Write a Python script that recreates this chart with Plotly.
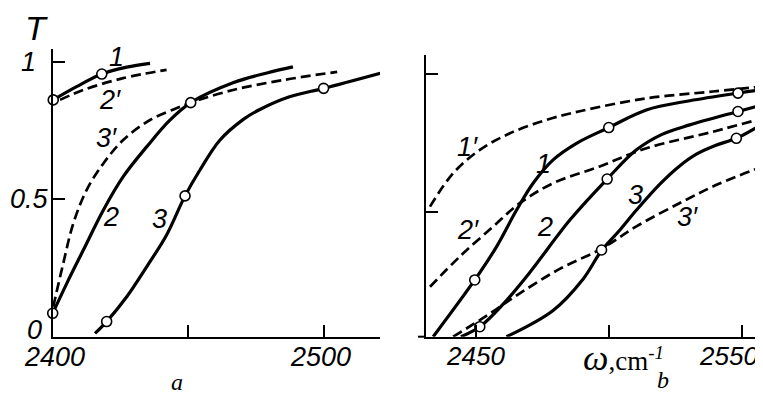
import plotly.graph_objects as go

# ---------------- data: panel a ----------------
a1_x = [2400.2, 2408.8, 2418.1, 2427.3, 2435.9]
a1_y = [0.861, 0.909, 0.955, 0.980, 0.994]
a2p_x = [2402.7, 2411.3, 2426.0, 2442.0]
a2p_y = [0.861, 0.897, 0.940, 0.970]
a2_x = [2400.0, 2405.2, 2411.3, 2418.7, 2426.0, 2434.7, 2443.3, 2450.9, 2466.5, 2479.0, 2488.6]
a2_y = [0.085, 0.194, 0.315, 0.461, 0.582, 0.691, 0.788, 0.851, 0.923, 0.959, 0.981]
a3p_x = [2400.2, 2403.9, 2407.6, 2412.5, 2418.7, 2426.0, 2435.9, 2447.0, 2450.9, 2466.5, 2485.0, 2504.9]
a3p_y = [0.109, 0.267, 0.412, 0.533, 0.630, 0.715, 0.788, 0.836, 0.851, 0.897, 0.933, 0.963]
a3_x = [2415.6, 2419.9, 2427.3, 2434.7, 2442.0, 2448.8, 2454.3, 2461.7, 2470.3, 2476.4, 2487.6, 2499.9, 2520.8]
a3_y = [0.012, 0.055, 0.145, 0.255, 0.370, 0.512, 0.606, 0.715, 0.790, 0.826, 0.873, 0.903, 0.958]
a_circ_x = [2400.2, 2418.1, 2400.0, 2450.9, 2419.9, 2448.8, 2499.9]
a_circ_y = [0.861, 0.955, 0.085, 0.851, 0.055, 0.512, 0.903]

# ---------------- data: panel b ----------------
b1p_x = [2432.9, 2441.6, 2451.6, 2462.9, 2476.6, 2489.1, 2514.1, 2539.1, 2557.7]
b1p_y = [0.495, 0.622, 0.711, 0.774, 0.825, 0.858, 0.907, 0.933, 0.952]
b1_x = [2434.1, 2449.7, 2457.9, 2465.4, 2471.6, 2479.1, 2487.9, 2500.0, 2514.1, 2530.4, 2548.5, 2557.7]
b1_y = [0.000, 0.216, 0.343, 0.482, 0.584, 0.673, 0.736, 0.796, 0.863, 0.898, 0.927, 0.940]
b2p_x = [2432.9, 2444.1, 2456.6, 2466.6, 2479.1, 2496.6, 2514.1, 2539.1, 2557.7]
b2p_y = [0.190, 0.305, 0.419, 0.508, 0.584, 0.648, 0.717, 0.780, 0.831]
b2_x = [2444.5, 2451.6, 2460.0, 2470.0, 2485.4, 2499.4, 2510.4, 2520.0, 2530.4, 2548.5, 2557.7]
b2_y = [0.000, 0.038, 0.120, 0.240, 0.444, 0.600, 0.711, 0.770, 0.806, 0.857, 0.882]
b3_x = [2461.6, 2479.1, 2490.4, 2497.3, 2504.1, 2510.4, 2519.1, 2526.6, 2532.9, 2540.0, 2547.9, 2557.7]
b3_y = [0.000, 0.100, 0.220, 0.328, 0.405, 0.482, 0.580, 0.650, 0.695, 0.728, 0.755, 0.810]
b3p_x = [2441.6, 2454.2, 2466.6, 2481.6, 2497.3, 2510.4, 2527.9, 2541.6, 2557.7]
b3p_y = [0.000, 0.080, 0.165, 0.258, 0.335, 0.420, 0.515, 0.583, 0.647]
b_circ_x = [2449.7, 2500.0, 2548.5, 2451.6, 2499.4, 2548.5, 2497.3, 2547.9]
b_circ_y = [0.216, 0.796, 0.927, 0.038, 0.600, 0.857, 0.330, 0.755]

# ---------------- ticks / labels ----------------
a_xticks = [2400, 2450, 2500]
a_xlabels = ["2400", "", "2500"]
a_yticks = [0, 0.5, 1.0]
a_ylabels = ["0", "0.5", "1"]
b_xticks = [2450, 2500, 2550]
b_xlabels = ["2450", "", "2550"]
b_yticks = [0.476, 1.0]

a_curve_labels = [("1", 2423.7, 1.017), ("2′", 2421.1, 0.861), ("3′", 2419.9, 0.722),
                  ("2", 2421.5, 0.435), ("3", 2439.2, 0.428)]
b_curve_labels = [("1′", 2446.9, 0.723), ("1", 2475.6, 0.657), ("2′", 2447.1, 0.406),
                  ("2", 2476.0, 0.419), ("3", 2510.1, 0.539), ("3′", 2529.6, 0.457)]

# page body has an 8px margin: size the figure so it fills the 763x394 window
OFF = 8
W, H = 763 - OFF, 394 - OFF


def PX(px):
    return (px - OFF) / W


def PY(py):
    return (H - (py - OFF)) / H


SOLID = dict(color="black", width=3.2, shape="spline", smoothing=1.0)
DASH = dict(color="black", width=2.7, dash="10px,5px", shape="spline", smoothing=1.0)
CIRC = dict(symbol="circle", size=10, color="white", line=dict(color="black", width=1.6))

fig = go.Figure()


def add_line(x, y, style, ax):
    fig.add_trace(go.Scatter(x=x, y=y, mode="lines", line=style,
                             xaxis="x" if ax == 1 else "x2",
                             yaxis="y" if ax == 1 else "y2",
                             hoverinfo="skip", showlegend=False))


add_line(a1_x, a1_y, SOLID, 1)
add_line(a2p_x, a2p_y, DASH, 1)
add_line(a3p_x, a3p_y, DASH, 1)
add_line(a2_x, a2_y, SOLID, 1)
add_line(a3_x, a3_y, SOLID, 1)
fig.add_trace(go.Scatter(x=a_circ_x, y=a_circ_y, mode="markers", marker=CIRC,
                         xaxis="x", yaxis="y", showlegend=False, cliponaxis=False))

add_line(b1p_x, b1p_y, DASH, 2)
add_line(b2p_x, b2p_y, DASH, 2)
add_line(b3p_x, b3p_y, DASH, 2)
add_line(b1_x, b1_y, SOLID, 2)
add_line(b2_x, b2_y, SOLID, 2)
add_line(b3_x, b3_y, SOLID, 2)
fig.add_trace(go.Scatter(x=b_circ_x, y=b_circ_y, mode="markers", marker=CIRC,
                         xaxis="x2", yaxis="y2", showlegend=False, cliponaxis=False))

axis_common = dict(showline=True, linewidth=2, linecolor="black", ticks="inside",
                   ticklen=12, tickwidth=2, tickcolor="black", showgrid=False,
                   zeroline=False, showticklabels=False)

ybot = PY(336.7)
fig.update_layout(
    width=W, height=H, margin=dict(l=0, r=0, t=0, b=0),
    paper_bgcolor="white", plot_bgcolor="white",
    xaxis=dict(domain=[PX(52.7), PX(380)], range=[2400, 2520.7], tickvals=a_xticks,
               anchor="y", **axis_common),
    yaxis=dict(domain=[ybot, PY(49)], range=[0, 1.046], tickvals=a_yticks,
               anchor="x", **axis_common),
    xaxis2=dict(domain=[PX(426), 1.0], range=[2431.4, 2557.9], tickvals=b_xticks,
                anchor="y2", **axis_common),
    yaxis2=dict(domain=[ybot, PY(55)], range=[0, 1.072], tickvals=b_yticks,
                anchor="x2", **axis_common),
)

# short extension of the b x-axis to the left of its y-axis
fig.add_shape(type="line", xref="paper", yref="paper", x0=PX(418), x1=PX(426),
              y0=ybot, y1=ybot, line=dict(color="black", width=2))

NUMF = dict(family="Liberation Sans", size=27, color="black")
C = dict(showarrow=False, xanchor="center", yanchor="middle")
ann = []
# tick labels, panel a
for v, t, dx in zip(a_xticks, a_xlabels, [2, 0, -3]):
    if t:
        ann.append(dict(x=v, y=0, xref="x", yref="y", text=f"<i>{t}</i>",
                        font=NUMF, yshift=-20, xshift=dx, **C))
for v, t, cx, dy in zip(a_yticks, a_ylabels, [34, 29, 28], [7, 0, 0]):
    ann.append(dict(x=PX(cx), y=v, xref="paper", yref="y", text=f"<i>{t}</i>",
                    font=NUMF, yshift=dy, **C))
# tick labels, panel b
for v, t, dx in zip(b_xticks, b_xlabels, [0, 0, -13]):
    if t:
        ann.append(dict(x=v, y=0, xref="x2", yref="y2", text=f"<i>{t}</i>",
                        font=dict(family="Liberation Sans", size=26, color="black"),
                        yshift=-19, xshift=dx, **C))
# curve labels
for t, x, y in a_curve_labels:
    ann.append(dict(x=x, y=y, xref="x", yref="y", text=f"<i>{t}</i>", font=NUMF, **C))
for t, x, y in b_curve_labels:
    ann.append(dict(x=x, y=y, xref="x2", yref="y2", text=f"<i>{t}</i>", font=NUMF, **C))

# axis titles and panel letters
ann.append(dict(x=PX(36), y=PY(28), xref="paper", yref="paper", text="<i>T</i>",
                font=dict(family="Liberation Sans", size=34, color="black"), **C))
ann.append(dict(x=PX(623), y=PY(358), xref="paper", yref="paper",
                text="<span style='font-size:36px'><i>ω</i></span>,cm<sup><i>-1</i></sup>",
                font=dict(family="Liberation Serif", size=27, color="black"), **C))
ann.append(dict(x=PX(177), y=PY(382), xref="paper", yref="paper", text="<i>a</i>",
                font=dict(family="Liberation Serif", size=24, color="black"), **C))
ann.append(dict(x=PX(663), y=PY(380), xref="paper", yref="paper", text="<i>b</i>",
                font=dict(family="Liberation Serif", size=24, color="black"), **C))

fig.update_layout(annotations=ann)
fig.write_html("out.html")
